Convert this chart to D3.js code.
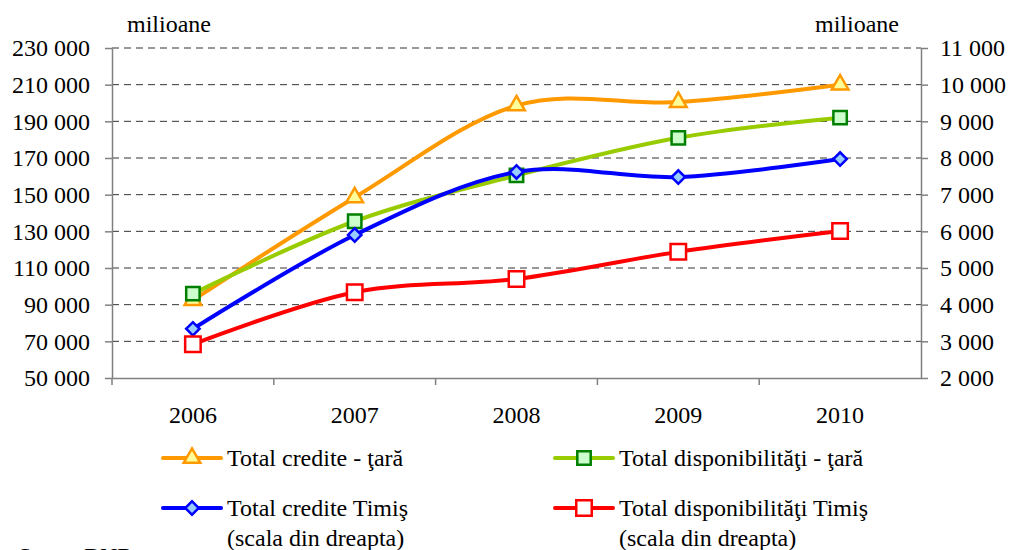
<!DOCTYPE html>
<html>
<head>
<meta charset="utf-8">
<script src="https://cdn.jsdelivr.net/npm/d3@7"></script>
</head>
<body style="margin:0; background:#fff">
<script>
// Data
const years = ["2006", "2007", "2008", "2009", "2010"];
const creditTara = [92500, 148500, 198600, 200500, 210000];      // left scale
const dispTara = [96000, 135500, 160500, 181000, 192000];        // left scale
const creditTimis = [3340, 5900, 7620, 7480, 7970];              // right scale
const dispTimis = [2920, 4340, 4700, 5440, 6010];                // right scale
const leftTicks = [50000, 70000, 90000, 110000, 130000, 150000, 170000, 190000, 210000, 230000];
const rightTicks = [2000, 3000, 4000, 5000, 6000, 7000, 8000, 9000, 10000, 11000];

const canvWidth = 1011, canvHeight = 550;
const svg = d3.select("body").append("svg")
    .attr("width", canvWidth)
    .attr("height", canvHeight)
    .style("font-family", "Tinos, 'Liberation Serif', 'DejaVu Serif', monospace")
    .style("font-size", "24px");

// Plot area
const plot = {left: 112, right: 921, top: 48, bottom: 378};

const locale = d3.formatLocale({decimal: ",", thousands: " ", grouping: [3], currency: ["", ""]});
const fmt = locale.format(",d");

const xScale = d3.scaleBand().domain(years).range([plot.left, plot.right]).padding(0);
const yLeft = d3.scaleLinear().domain([50000, 230000]).range([plot.bottom, plot.top]);
const yRight = d3.scaleLinear().domain([2000, 11000]).range([plot.bottom, plot.top]);
const cx = d => xScale(d) + xScale.bandwidth() / 2;

// Dashed gridlines
svg.append("g")
    .selectAll("line")
    .data(leftTicks.slice(1))
    .enter().append("line")
    .attr("x1", plot.left).attr("x2", plot.right)
    .attr("y1", d => yLeft(d)).attr("y2", d => yLeft(d))
    .attr("stroke", "#333")
    .attr("stroke-width", 1)
    .attr("stroke-dasharray", "7,5");

// Left axis
const axisColor = "#808080";
const gLeft = svg.append("g")
    .attr("transform", "translate(" + plot.left + ",0)")
    .call(d3.axisLeft(yLeft).tickValues(leftTicks).tickFormat(fmt)
        .tickSize(7).tickSizeOuter(0).tickPadding(15));

// Right axis
const gRight = svg.append("g")
    .attr("transform", "translate(" + plot.right + ",0)")
    .call(d3.axisRight(yRight).tickValues(rightTicks).tickFormat(fmt)
        .tickSize(7).tickSizeOuter(0).tickPadding(12));

// Bottom axis: labels centred, ticks between categories
const gBottom = svg.append("g")
    .attr("transform", "translate(0," + plot.bottom + ")")
    .call(d3.axisBottom(xScale).tickSize(0).tickSizeOuter(0));
gBottom.selectAll("text").attr("y", 45).attr("dy", 0);
gBottom.selectAll(".between")
    .data(years)
    .enter().append("line")
    .attr("class", "between")
    .attr("x1", d => xScale(d)).attr("x2", d => xScale(d))
    .attr("y1", 0).attr("y2", 7)
    .attr("stroke", axisColor)
    .attr("stroke-width", 1.5);

[gLeft, gRight, gBottom].forEach(g => {
    // drop the axis' own sans-serif so the svg font is inherited
    g.attr("font-family", null).attr("font-size", null);
    g.selectAll("path.domain").attr("stroke", axisColor).attr("stroke-width", 1.5);
    g.selectAll(".tick line").attr("stroke", axisColor).attr("stroke-width", 1.5);
});

// Units
svg.append("text").attr("x", 127).attr("y", 32).text("milioane");
svg.append("text").attr("x", 815).attr("y", 32).text("milioane");

// Series
const series = [
    {name: ["Total credite - ţară"], values: creditTara, scale: yLeft,
     line: "#ff9900", shape: "triangle", fill: "#ffff99", stroke: "#ff9900"},
    {name: ["Total disponibilităţi - ţară"], values: dispTara, scale: yLeft,
     line: "#99cc00", shape: "square", fill: "#ccffcc", stroke: "#008000"},
    {name: ["Total credite Timiş", "(scala din dreapta)"], values: creditTimis, scale: yRight,
     line: "#0000ff", shape: "diamond", fill: "#99ccff", stroke: "#0000ff"},
    {name: ["Total disponibilităţi Timiş", "(scala din dreapta)"], values: dispTimis, scale: yRight,
     line: "#ff0000", shape: "bigsquare", fill: "#ffffff", stroke: "#ff0000"}
];

function markerPath(shape) {
    if (shape === "triangle") return d3.symbol(d3.symbolTriangle, 120)();
    if (shape === "square") return d3.symbol(d3.symbolSquare, 180)();
    if (shape === "diamond") return d3.symbol(d3.symbolSquare, 90)();
    return d3.symbol(d3.symbolSquare, 240)();
}
function markerTransform(shape, x, y) {
    return "translate(" + x + "," + y + ")" + (shape === "diamond" ? " rotate(45)" : "");
}

const lineGen = d3.line().curve(d3.curveCatmullRom.alpha(0));

series.forEach(s => {
    const pts = years.map((yr, i) => [cx(yr), s.scale(s.values[i])]);
    svg.append("path")
        .attr("d", lineGen(pts))
        .attr("fill", "none")
        .attr("stroke", s.line)
        .attr("stroke-width", 4)
        .attr("stroke-linejoin", "round");
    svg.append("g").selectAll("path")
        .data(pts)
        .enter().append("path")
        .attr("d", markerPath(s.shape))
        .attr("transform", d => markerTransform(s.shape, d[0], d[1]))
        .attr("fill", s.fill)
        .attr("stroke", s.stroke)
        .attr("stroke-width", 2.5);
});

// Legend
const legendPos = [
    {x: 163, y: 458}, {x: 555, y: 458},
    {x: 163, y: 508}, {x: 555, y: 508}
];
series.forEach((s, i) => {
    const p = legendPos[i];
    const g = svg.append("g").attr("transform", "translate(" + p.x + "," + p.y + ")");
    g.append("line")
        .attr("x1", 0).attr("x2", 58).attr("y1", 0).attr("y2", 0)
        .attr("stroke", s.line).attr("stroke-width", 4).attr("stroke-linecap", "round");
    g.append("path")
        .attr("d", markerPath(s.shape))
        .attr("transform", markerTransform(s.shape, 29, 0))
        .attr("fill", s.fill).attr("stroke", s.stroke).attr("stroke-width", 2.5);
    s.name.forEach((t, j) => {
        g.append("text")
            .attr("x", 64).attr("y", 8 + j * 30)
            .text(t);
    });
});

// Source line (cut off at the bottom edge, as in the original)
svg.append("text").attr("x", 18).attr("y", 564).text("Sursa: BNR");
</script>
</body>
</html>
